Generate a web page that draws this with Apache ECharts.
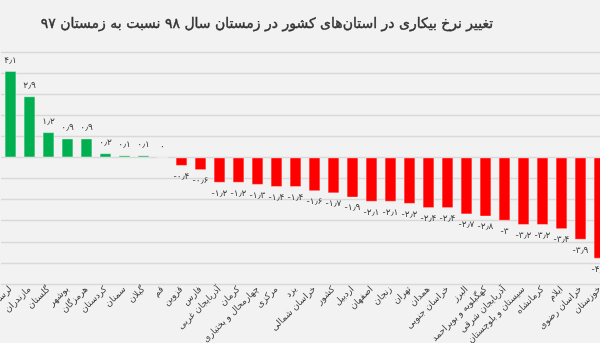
<!DOCTYPE html>
<html>
<head>
<meta charset="utf-8">
<script src="https://cdn.jsdelivr.net/npm/echarts@6/dist/echarts.min.js"></script>
<style>
  html, body { margin: 0; padding: 0; background: #f2f2f2; }
  #chart { width: 600px; height: 343px; }
</style>
</head>
<body>
<div id="chart"></div>
<script>
// Provinces ordered by change in winter unemployment rate (percentage points)
const provinces = [
  'لرستان', 'مازندران', 'گلستان', 'بوشهر', 'هرمزگان', 'کردستان', 'سمنان', 'گیلان',
  'قم', 'قزوین', 'فارس', 'آذربایجان غربی', 'کرمان', 'چهارمحال و بختیاری', 'مرکزی', 'یزد',
  'خراسان شمالی', 'کشور', 'اردبیل', 'اصفهان', 'زنجان', 'تهران', 'همدان', 'خراسان جنوبی',
  'البرز', 'کهگیلویه و بویراحمد', 'آذربایجان شرقی', 'سیستان و بلوچستان', 'کرمانشاه', 'ایلام',
  'خراسان رضوی', 'خوزستان'
];
const changes = [
  4.1, 2.9, 1.2, 0.9, 0.9, 0.2, 0.1, 0.1,
  0, -0.4, -0.6, -1.2, -1.2, -1.3, -1.4, -1.4,
  -1.6, -1.7, -1.9, -2.1, -2.1, -2.2, -2.4, -2.4,
  -2.7, -2.8, -3, -3.2, -3.2, -3.4,
  -3.9, -4.8
];
const yTicks = [-6, 5, 1]; // min, max, step

const titleText = 'تغییر نرخ بیکاری در استان‌های کشور در زمستان سال ۹۸ نسبت به زمستان ۹۷';

function toPersian(v) {
  const digits = '۰۱۲۳۴۵۶۷۸۹';
  return String(v).replace(/[0-9]/g, d => digits[+d]).replace('.', '٫');
}

const chart = echarts.init(document.getElementById('chart'), null, { renderer: 'canvas' });

chart.setOption({
  backgroundColor: '#f2f2f2',
  animation: false,
  textStyle: { fontFamily: 'DejaVu Sans' },
  title: {
    text: titleText,
    left: 262,
    top: 12,
    textAlign: 'center',
    textStyle: {
      fontSize: 14, fontWeight: 'normal', color: '#333333', fontFamily: 'DejaVu Sans',
      textBorderColor: '#333333', textBorderWidth: 0.4
    }
  },
  grid: { left: 1, top: 52, width: 608, height: 232, containLabel: false, outerBoundsMode: 'none' },
  xAxis: {
    type: 'category',
    data: provinces,
    axisLine: { onZero: false, lineStyle: { color: '#d9d9d9', width: 1 } },
    axisTick: { show: false },
    axisLabel: {
      interval: 0,
      rotate: 45,
      margin: 4,
      fontSize: 9,
      color: '#404040',
      fontFamily: 'DejaVu Sans'
    }
  },
  yAxis: {
    type: 'value',
    min: yTicks[0],
    max: yTicks[1],
    interval: yTicks[2],
    axisLabel: { show: false },
    axisLine: { show: false },
    axisTick: { show: false },
    splitLine: { lineStyle: { color: '#d9d9d9', width: 1.3 } }
  },
  series: [{
    type: 'bar',
    barWidth: '62%',
    data: changes.map(v => ({
      value: v,
      itemStyle: {
        color: v >= 0 ? '#00b050' : '#ff0000',
        borderColor: 'rgba(255,255,255,0.35)',
        borderWidth: 1
      },
      label: {
        show: true,
        position: v >= 0 ? 'top' : 'bottom',
        distance: 6,
        formatter: () => (v < 0 ? '-' + toPersian(-v) : toPersian(v)),
        fontSize: 9,
        color: '#404040',
        fontFamily: 'DejaVu Sans'
      }
    }))
  }]
});
</script>
</body>
</html>
